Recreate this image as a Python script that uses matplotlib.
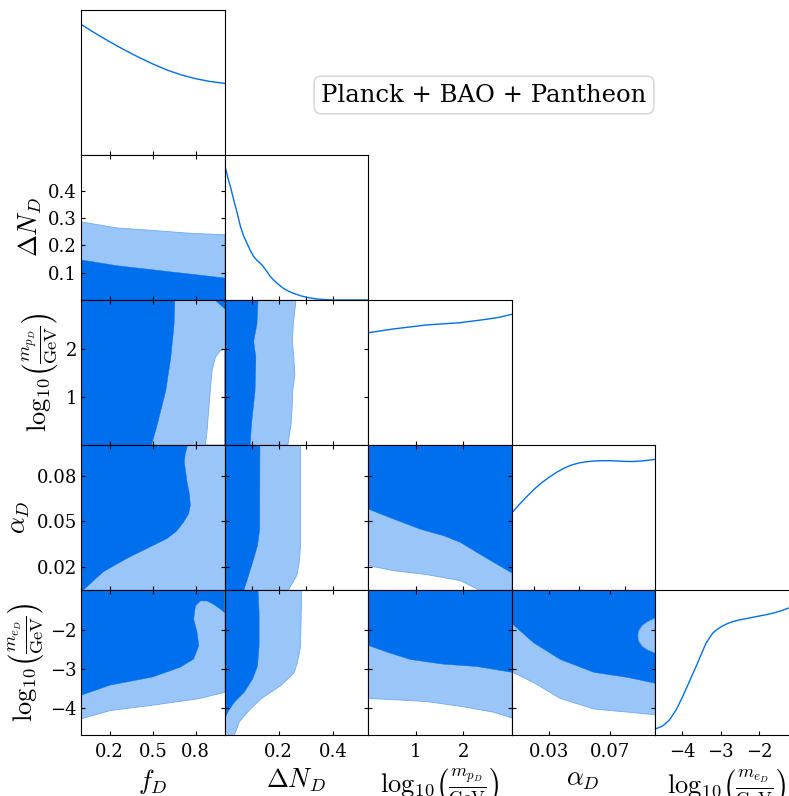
import numpy as np
import matplotlib.pyplot as plt

plt.rcParams['font.family'] = 'DejaVu Serif'
plt.rcParams['mathtext.fontset'] = 'cm'

dark = '#006FED'
light = '#99C5F8'
edge = '#6FAAF2'

names = [r'$f_D$', r'$\Delta N_D$',
         r'$\log_{10}\!\left(\frac{m_{p_D}}{\mathrm{GeV}}\right)$',
         r'$\alpha_D$',
         r'$\log_{10}\!\left(\frac{m_{e_D}}{\mathrm{GeV}}\right)$']
lims = [[0.0, 1.0], [0.0, 0.53], [0.0, 3.02], [0.005, 0.1], [-4.7, -0.98]]
ticks = [[0.2, 0.5, 0.8], [0.1, 0.2, 0.3, 0.4], [1, 2], [0.02, 0.05, 0.08], [-4, -3, -2]]
xticks = [[0.2, 0.5, 0.8], [0.2, 0.4], [1, 2], [0.03, 0.07], [-4, -3, -2]]

# 1D marginals (height relative to panel)
fD_x = [0, 0.1, 0.2, 0.3, 0.4, 0.5, 0.6, 0.7, 0.8, 0.9, 1.0]
fD_p = [0.901, 0.839, 0.781, 0.726, 0.675, 0.628, 0.586, 0.552, 0.526, 0.507, 0.494]

dN_x = [0.0, 0.004, 0.012, 0.022, 0.034, 0.047, 0.059, 0.07, 0.083, 0.095, 0.108, 0.123,
        0.139, 0.157, 0.168, 0.181, 0.2, 0.218, 0.235, 0.255, 0.28, 0.304, 0.341, 0.37,
        0.402, 0.53]
dN_p = [0.92, 0.908, 0.845, 0.781, 0.690, 0.598, 0.506, 0.445, 0.391, 0.343, 0.299, 0.268,
        0.241, 0.195, 0.165, 0.138, 0.106, 0.080, 0.062, 0.046, 0.03, 0.018, 0.007, 0.003,
        0.0, 0.0]

mp_x = [0, 0.53, 1.23, 1.93, 2.49, 2.77, 3.02]
mp_p = [0.774, 0.80, 0.828, 0.843, 0.867, 0.881, 0.901]

aD_x = [0.005, 0.01, 0.015, 0.02, 0.025, 0.03, 0.035, 0.04, 0.045, 0.05, 0.055, 0.06,
        0.065, 0.07, 0.075, 0.08, 0.085, 0.09, 0.095, 0.1]
aD_p = [0.529, 0.588, 0.643, 0.695, 0.74, 0.778, 0.813, 0.841, 0.863, 0.877, 0.885, 0.89,
        0.892, 0.892, 0.89, 0.887, 0.886, 0.889, 0.894, 0.901]

me_x = [-4.716, -4.501, -4.328, -4.155, -3.984, -3.81, -3.638, -3.509, -3.38, -3.209,
        -3.12, -3.036, -2.95, -2.863, -2.78, -2.693, -2.52, -2.346, -2.088, -1.87, -1.659,
        -1.45, -1.253, -0.98]
me_p = [0.039, 0.062, 0.103, 0.172, 0.264, 0.368, 0.471, 0.552, 0.632, 0.701,
        0.722, 0.738, 0.752, 0.763, 0.773, 0.781, 0.793, 0.802, 0.816, 0.827, 0.839,
        0.855, 0.874, 0.895]

# f_D - dN_D
fd_grid = [0, 0.25, 0.5, 0.75, 1.0]
dN_fd_95 = [0.287, 0.265, 0.256, 0.246, 0.240]
dN_fd_68 = [0.148, 0.127, 0.112, 0.097, 0.082]

# f_D - log m_p
mp_fd_m = [0, 0.45, 1.14, 1.83, 2.52, 3.02]
mp_fd_68 = [0.487, 0.529, 0.587, 0.622, 0.645, 0.65]
corner_f = [0.937, 1.0, 1.0]
corner_m = [3.02, 3.02, 2.83]
hole_f = [0.867, 0.879, 0.897, 0.913, 0.937, 0.972, 1.0, 1.0]
hole_m = [0, 0.31, 1.0, 1.55, 1.83, 1.97, 1.99, 0]

# f_D - alpha_D
fa_f = [0, 0.743, 0.726, 0.72, 0.739, 0.755, 0.762, 0.75, 0.716, 0.665, 0.599, 0.459,
        0.319, 0.156, 0.016, 0]
fa_a = [0.1, 0.1, 0.094, 0.0888, 0.0757, 0.068, 0.0604, 0.055, 0.0496, 0.0435, 0.0387,
        0.0322, 0.0257, 0.017, 0.005, 0.005]

# f_D - log m_e
fe_f = [0, 0, 0.203, 0.501, 0.692, 0.785, 0.82, 0.809, 0.785, 0.797, 0.832, 0.879,
        0.925, 0.972, 1.0, 1.0]
fe_m = [-0.98, -3.68, -3.42, -3.21, -2.96, -2.75, -2.41, -2.07, -1.73, -1.39, -1.26,
        -1.26, -1.35, -1.47, -1.56, -0.98]
fe_f95 = [0, 0.2, 0.5, 0.81, 1.0]
fe_m95 = [-4.27, -4.06, -3.92, -3.76, -3.59]

# dN_D - log m_p
dp_m = [0, 0.45, 1.14, 1.83, 2.17, 2.53, 3.02]
dp_68 = [0.093, 0.098, 0.111, 0.114, 0.106, 0.118, 0.122]
dp_m95 = [0, 0.45, 0.8, 1.14, 1.48, 1.83, 2.17, 2.53, 3.02]
dp_95 = [0.232, 0.244, 0.248, 0.25, 0.258, 0.254, 0.249, 0.252, 0.262]

# dN_D - alpha_D
da_a68 = [0.005, 0.0126, 0.0235, 0.0344, 0.045, 0.1]
da_68 = [0.069, 0.083, 0.102, 0.12, 0.128, 0.129]
da_a95 = [0.005, 0.0148, 0.0235, 0.0344, 0.1]
da_95 = [0.233, 0.265, 0.274, 0.279, 0.279]

# dN_D - log m_e
de_m68 = [-4.27, -4.10, -3.85, -3.59, -3.25, -2.92, -2.41, -1.56, -0.98]
de_68 = [0.0, 0.01, 0.034, 0.071, 0.102, 0.12, 0.126, 0.126, 0.122]
de_m95 = [-4.7, -4.35, -4.10, -3.76, -3.42, -3.09, -2.84, -2.41, -0.98]
de_95 = [0.034, 0.053, 0.083, 0.132, 0.206, 0.255, 0.267, 0.279, 0.283]

# log m_p - alpha_D
pa_m = [0, 0.53, 1.09, 1.58, 1.93, 2.28, 2.63, 3.02]
pa_68 = [0.0583, 0.0518, 0.0452, 0.0409, 0.0366, 0.030, 0.0235, 0.0165]
pa_m95 = [0, 0.53, 1.23, 1.93, 2.35, 3.02]
pa_95 = [0.0213, 0.018, 0.0154, 0.0115, 0.005, 0.005]

# log m_p - log m_e
pe_m = [0, 0.39, 0.88, 1.58, 2.28, 3.02]
pe_68 = [-2.39, -2.56, -2.75, -2.87, -2.93, -3.08]
pe_m95 = [0, 0.53, 1.23, 1.93, 2.63, 3.02]
pe_95 = [-3.75, -3.78, -3.83, -3.95, -4.10, -4.25]

# alpha_D - log m_e
ae_a = [0.005, 0.0193, 0.037, 0.0593, 0.0816, 0.1]
ae_68 = [-1.83, -2.32, -2.75, -3.08, -3.21, -3.36]
ae_95 = [-3.07, -3.34, -3.75, -4.02, -4.10, -4.17]
lobe_a = [0.1, 0.095, 0.0915, 0.0895, 0.0887, 0.0895, 0.0916, 0.0955, 0.1]
lobe_m = [-1.71, -1.80, -1.90, -2.02, -2.15, -2.30, -2.42, -2.52, -2.59]

W, H = 789, 796
fig = plt.figure(figsize=(W / 100, H / 100), dpi=100)
x0, y0, cw, rh = 81, 10, 143.5, 145

axes = {}
for i in range(5):
    for j in range(i + 1):
        ax = fig.add_axes([(x0 + j * cw) / W, 1 - (y0 + (i + 1) * rh) / H, cw / W, rh / H])
        ax.set_xlim(lims[j])
        ax.set_xticks(xticks[j] if i == 4 else ticks[j])
        if i == j:
            ax.set_ylim(0, 1)
            ax.set_yticks([])
            ax.tick_params(direction='in', length=3, labelsize=13)
        else:
            ax.set_ylim(lims[i])
            ax.set_yticks(ticks[i])
            ax.tick_params(direction='in', length=3, top=True, right=True, labelsize=13)
        ax.tick_params(axis='x', pad=6)
        ax.tick_params(axis='y', pad=3)
        if i < 4:
            ax.tick_params(labelbottom=False)
        else:
            ax.set_xlabel(names[j], fontsize=19, labelpad=4)
        if j > 0 or i == 0:
            ax.tick_params(labelleft=False)
        else:
            ax.set_ylabel(names[i], fontsize=19, labelpad=3)
        axes[i, j] = ax

# diagonal
axes[0, 0].plot(fD_x, fD_p, color=dark, lw=1)
axes[1, 1].plot(dN_x, dN_p, color=dark, lw=1)
axes[2, 2].plot(mp_x, mp_p, color=dark, lw=1)
axes[3, 3].plot(aD_x, aD_p, color=dark, lw=1)
axes[4, 4].plot(me_x, me_p, color=dark, lw=1)

kw95 = dict(facecolor=light, edgecolor=edge, lw=0.6)
kw68 = dict(facecolor=dark, edgecolor=dark, lw=0.3)

ax = axes[1, 0]
ax.fill_between(fd_grid, lims[1][0], dN_fd_95, **kw95)
ax.fill_between(fd_grid, lims[1][0], dN_fd_68, **kw68)

ax = axes[2, 0]
ax.fill_between(lims[0], lims[2][0], lims[2][1], facecolor=light, lw=0)
ax.fill_betweenx(mp_fd_m, 0, mp_fd_68, **kw68)
ax.fill(corner_f, corner_m, **kw68)
ax.fill(hole_f, hole_m, facecolor='white', edgecolor=edge, lw=0.6)

ax = axes[3, 0]
ax.fill_between(lims[0], lims[3][0], lims[3][1], facecolor=light, lw=0)
ax.fill(fa_f, fa_a, **kw68)

ax = axes[4, 0]
ax.fill_between(fe_f95, fe_m95, lims[4][1], **kw95)
ax.fill(fe_f, fe_m, **kw68)

ax = axes[2, 1]
ax.fill_betweenx(dp_m95, 0, dp_95, **kw95)
ax.fill_betweenx(dp_m, 0, dp_68, **kw68)

ax = axes[3, 1]
ax.fill_betweenx(da_a95, 0, da_95, **kw95)
ax.fill_betweenx(da_a68, 0, da_68, **kw68)

ax = axes[4, 1]
ax.fill_betweenx(de_m95, 0, de_95, **kw95)
ax.fill_betweenx(de_m68, 0, de_68, **kw68)

ax = axes[3, 2]
ax.fill_between(pa_m95, pa_95, lims[3][1], **kw95)
ax.fill_between(pa_m, pa_68, lims[3][1], **kw68)

ax = axes[4, 2]
ax.fill_between(pe_m95, pe_95, lims[4][1], **kw95)
ax.fill_between(pe_m, pe_68, lims[4][1], **kw68)

ax = axes[4, 3]
ax.fill_between(ae_a, ae_95, lims[4][1], **kw95)
ax.fill_between(ae_a, ae_68, lims[4][1], **kw68)
ax.fill(lobe_a, lobe_m, **kw95)

fig.text(484 / W, 1 - 95 / H, 'Planck + BAO + Pantheon', ha='center', va='center',
         fontsize=17.5, bbox=dict(boxstyle='round,pad=0.3', fc='white', ec='0.85', lw=1.2))

plt.savefig('out.png', dpi=100)
